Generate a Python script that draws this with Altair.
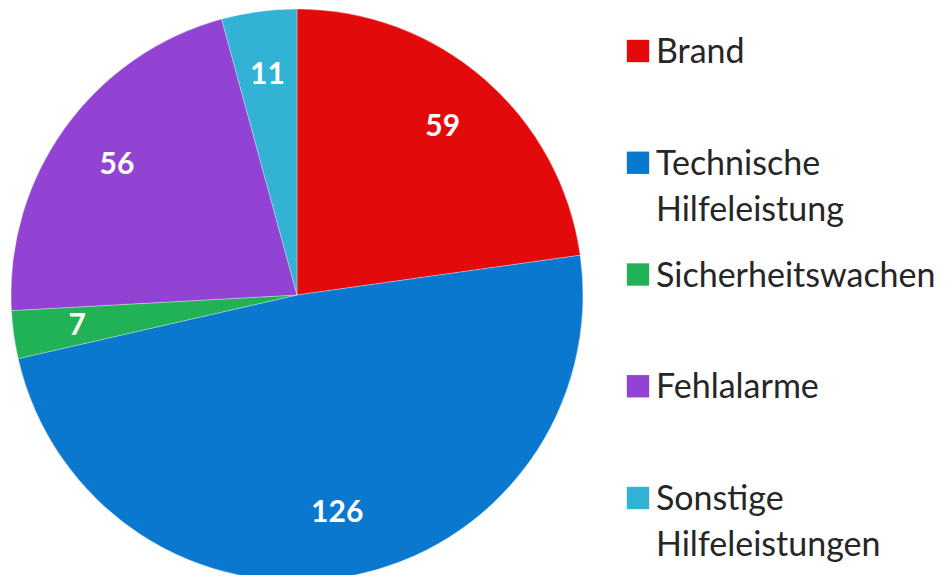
import altair as alt
import pandas as pd

categories = ["Brand", "Technische Hilfeleistung", "Sicherheitswachen", "Fehlalarme", "Sonstige Hilfeleistungen"]
legend_labels = ["Brand", "Technische\nHilfeleistung", "Sicherheitswachen", "Fehlalarme", "Sonstige\nHilfeleistungen"]
values = [59, 126, 7, 56, 11]
colors = ["#e20a0a", "#0b78d0", "#21b256", "#9243d4", "#32b3d6"]

df = pd.DataFrame({
    "category": categories,
    "label": legend_labels,
    "value": values,
    "idx": list(range(len(categories))),
})

CX, CY, R = 289, 287, 286

color = alt.Color("category:N", scale=alt.Scale(domain=categories, range=colors), legend=None)
theta = alt.Theta("value:Q", stack=True)
order = alt.Order("idx:Q", sort="ascending")

base = alt.Chart(df)

arcs = base.mark_arc(radius=R, stroke="#ffffff", strokeWidth=0.6, strokeOpacity=0.5).encode(
    theta=theta, color=color, order=order,
    x=alt.value(CX), y=alt.value(CY),
)

labels = base.mark_text(radius=222, font="Lato", fontSize=30, fontWeight="bold",
                        color="white", align="center", baseline="middle").encode(
    theta=theta, order=order, text=alt.Text("value:Q"),
    x=alt.value(CX), y=alt.value(CY),
)

ypos = alt.Y("idx:Q", scale=alt.Scale(domain=[0, 4], range=[43, 490]), axis=None)

squares = base.mark_square(size=500, opacity=1).encode(
    y=ypos, x=alt.value(630), color=color,
)

leg_text = base.mark_text(align="left", baseline="alphabetic", dy=12, font="Lato",
                          fontSize=34, lineBreak="\n", lineHeight=46, color="#262626").encode(
    y=ypos, x=alt.value(648), text="label:N",
)

chart = alt.layer(arcs, labels, squares, leg_text).properties(
    width=936, height=567, padding=0, autosize=alt.AutoSizeParams(type="none"),
).configure_view(stroke=None)

chart.save("out.html", embed_options={"renderer": "svg", "actions": False})
